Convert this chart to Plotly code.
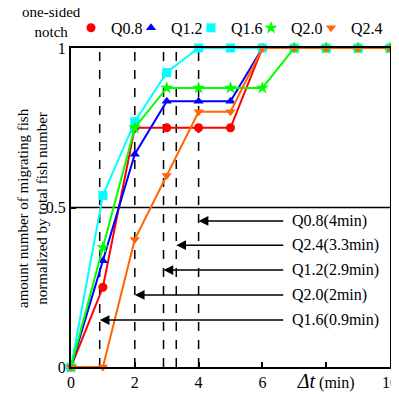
import plotly.graph_objects as go

t = [0, 1, 2, 3, 4, 5, 6, 7, 8, 9, 10]
series_names = ["Q0.8", "Q1.2", "Q1.6", "Q2.0", "Q2.4"]
q08 = [0, 0.25, 0.75, 0.75, 0.75, 0.75, 1, 1, 1, 1, 1]
q12 = [0, 0.333, 0.667, 0.833, 0.833, 0.833, 1, 1, 1, 1, 1]
q16 = [0, 0.538, 0.769, 0.923, 1, 1, 1, 1, 1, 1, 1]
q20 = [0, 0.375, 0.75, 0.875, 0.875, 0.875, 0.875, 1, 1, 1, 1]
q24 = [0, 0, 0.4, 0.6, 0.8, 0.8, 1, 1, 1, 1, 1]
colors = ["#ff0000", "#0000ff", "#00ffff", "#00ff00", "#ff6600"]
symbols = ["circle", "triangle-up", "square", "star", "triangle-down"]

arrival_times = [0.9, 2, 2.9, 3.3, 4]
arrival_labels = ["Q1.6(0.9min)", "Q2.0(2min)", "Q1.2(2.9min)", "Q2.4(3.3min)", "Q0.8(4min)"]
label_y = [0.147, 0.226, 0.304, 0.382, 0.458]
arrow_tail_x = 6.7

xtick_vals = [0, 2, 4, 6, 8, 10]
xtick_text = ["0", "2", "4", "6", "<span style='font-size:20px'><i>Δt</i></span> (min)", "10"]
ytick_vals = [0, 0.5, 1]
ytick_text = ["0", "0.5", "1"]

FONT = "Liberation Serif"
fig = go.Figure()
for name, ys, c, s in zip(series_names, [q08, q12, q16, q20, q24], colors, symbols):
    fig.add_trace(go.Scatter(x=t, y=ys, mode="lines+markers", name=name,
                             line=dict(color=c, width=2),
                             marker=dict(color=c, symbol=s, size=9 if s != "star" else 10),
                             cliponaxis=False, showlegend=False))
for i, (name, c, s) in enumerate(zip(series_names, colors, symbols)):
    fig.add_trace(go.Scatter(x=[None], y=[None], mode="markers", name=name,
                             legendwidth=15 if i < len(series_names) - 1 else 34,
                             marker=dict(color=c, symbol=s, size=9 if s != "star" else 10)))

shapes = []
for xt in arrival_times:
    shapes.append(dict(type="line", xref="x", yref="y", x0=xt, x1=xt, y0=0, y1=1,
                       line=dict(color="black", width=1.5, dash="dash"), layer="below"))
shapes.append(dict(type="line", xref="paper", yref="y", x0=0, x1=1, y0=0.5, y1=0.5,
                   line=dict(color="black", width=1.5), layer="below"))

annotations = []
for xt, lab, yy in zip(arrival_times, arrival_labels, label_y):
    annotations.append(dict(x=xt, y=yy, ax=arrow_tail_x, ay=yy, axref="x", ayref="y",
                            xref="x", yref="y", text="", showarrow=True,
                            arrowhead=2, arrowsize=1.3, arrowwidth=1.5, arrowcolor="black"))
    annotations.append(dict(x=arrow_tail_x + 0.15, y=yy, xref="x", yref="y", text=lab,
                            showarrow=False, xanchor="left", yanchor="middle",
                            font=dict(family=FONT, size=16, color="black")))
annotations.append(dict(x=-0.0596, y=1.083, xref="paper", yref="paper", text="one-sided<br>notch",
                        showarrow=False, xanchor="center", yanchor="middle",
                        font=dict(family=FONT, size=15, color="black")))
annotations.append(dict(x=-0.1207, y=0.5, xref="paper", yref="paper",
                        text="amount number of migrating fish<br>normalized by total fish number",
                        textangle=-90, showarrow=False, xanchor="center", yanchor="middle",
                        font=dict(family=FONT, size=15, color="black")))

fig.update_layout(
    width=391, height=386,
    margin=dict(l=63, r=9, t=40, b=27, autoexpand=False),
    paper_bgcolor="white", plot_bgcolor="white",
    font=dict(family=FONT, size=16, color="black"),
    shapes=shapes,
    annotations=annotations,
    showlegend=True,
    legend=dict(orientation="h", x=0.0, xanchor="left", y=1.063, yanchor="middle",
                font=dict(family=FONT, size=16), itemwidth=30, tracegroupgap=0,
                entrywidth=15, bgcolor="rgba(0,0,0,0)"),
    xaxis=dict(range=[0, 10], tickvals=xtick_vals, ticktext=xtick_text,
               ticks="inside", ticklen=5, tickwidth=1.5, tickcolor="black",
               showline=True, linecolor="black", linewidth=2, mirror=True,
               showgrid=False, zeroline=False, tickfont=dict(size=16)),
    yaxis=dict(range=[0, 1], tickvals=ytick_vals, ticktext=ytick_text,
               ticks="inside", ticklen=5, tickwidth=1.5, tickcolor="black",
               showline=True, linecolor="black", linewidth=2, mirror=True,
               showgrid=False, zeroline=False, tickfont=dict(size=16)),
)
fig.write_html("out.html")
